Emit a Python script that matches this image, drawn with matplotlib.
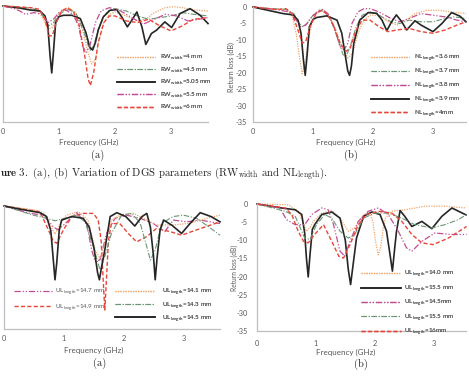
import matplotlib
matplotlib.use("Agg")
import matplotlib.pyplot as plt

plt.rcParams['font.family'] = ['Lato', 'DejaVu Sans']
plt.rcParams['axes.unicode_minus'] = False
plt.rcParams['mathtext.fontset'] = 'cm'

W, H = 469, 378

# ---- figure 3 (a): RW width ----
rw4_f = [0, 0.3, 0.55, 0.65, 0.72, 0.8, 0.88, 0.95, 1.05, 1.17, 1.3, 1.42, 1.5, 1.58, 1.65, 1.72, 1.8, 1.9, 2.0, 2.2, 2.4, 2.55, 2.7, 2.9, 3.05, 3.2, 3.4, 3.66]
rw4_db = [0, -0.8, -1.2, -2, -4, -7, -6.5, -3.5, -1.2, -0.5, -2, -7, -13, -17.5, -16, -10, -5, -2.5, -1.8, -3, -4.5, -4, -2, -0.5, -0.2, -0.5, -1.2, -1.5]
rw45_f = [0, 0.5, 0.65, 0.75, 0.82, 0.9, 1.0, 1.15, 1.3, 1.45, 1.55, 1.62, 1.7, 1.8, 1.9, 2.0, 2.2, 2.4, 2.6, 2.8, 3.0, 3.2, 3.4, 3.66]
rw45_db = [0, -0.6, -1.5, -4, -6, -5, -2.5, -1, -2, -8, -13.5, -12, -7, -3, -1.2, -0.8, -1.5, -3, -4, -3.5, -3, -2, -2.5, -3]
rw505_f = [0, 0.3, 0.48, 0.66, 0.75, 0.8, 0.84, 0.87, 0.9, 0.94, 1.0, 1.08, 1.23, 1.38, 1.48, 1.55, 1.6, 1.65, 1.7, 1.79, 1.91, 2.03, 2.12, 2.22, 2.3, 2.39, 2.48, 2.55, 2.65, 2.74, 2.89, 3.01, 3.16, 3.34, 3.52, 3.66]
rw505_db = [0, -0.6, -1.2, -1.5, -3, -6, -15, -20.2, -14, -5, -3.2, -2.8, -2.8, -3.8, -8, -12.5, -13.3, -11, -7.3, -3.3, -1.3, -1.1, -3.3, -6.3, -4.3, -1.8, -6.3, -11.6, -8.3, -7.3, -4.8, -6.5, -2.3, -0.8, -2.8, -5.3]
rw55_f = [0, 0.2, 0.3, 0.4, 0.55, 0.7, 0.8, 0.9, 1.0, 1.1, 1.25, 1.35, 1.42, 1.48, 1.55, 1.65, 1.75, 1.9, 2.1, 2.3, 2.5, 2.7, 2.9, 3.1, 3.3, 3.5, 3.66]
rw55_db = [0, -0.8, -1.5, -2.5, -2, -2.5, -5, -4, -2, -1, -2.5, -6, -12, -14, -12, -5, -1.5, -0.5, -1.5, -3.5, -5.5, -4, -2.5, -3, -4.5, -4, -3.5]
rw6_f = [0, 0.5, 0.65, 0.75, 0.82, 0.88, 0.95, 1.05, 1.15, 1.25, 1.35, 1.45, 1.52, 1.56, 1.62, 1.7, 1.8, 1.9, 2.0, 2.2, 2.4, 2.6, 2.8, 3.0, 3.2, 3.4, 3.66]
rw6_db = [0, -0.5, -1, -4, -9, -9, -5, -1.5, -0.6, -1.5, -5, -14, -22, -24, -20, -11, -5, -3, -3, -4.5, -5, -4, -6, -7.5, -6, -4, -3.5]

# ---- figure 3 (b): NL length ----
nl36_f = [0, 0.3, 0.55, 0.65, 0.72, 0.78, 0.82, 0.87, 0.93, 1.0, 1.1, 1.17, 1.28, 1.38, 1.48, 1.58, 1.66, 1.75, 1.85, 1.95, 2.1, 2.25, 2.4, 2.55, 2.7, 2.9, 3.1, 3.3, 3.55]
nl36_db = [0, -0.5, -0.8, -2.5, -8, -16, -20.3, -17, -9, -3.5, -1.2, -0.8, -3, -7, -12, -15.5, -14, -8, -4, -2.5, -2.5, -4.5, -5.5, -4, -2, -1, -1, -1.5, -2]
nl37_f = [0, 0.3, 0.55, 0.68, 0.77, 0.83, 0.9, 1.0, 1.12, 1.2, 1.3, 1.4, 1.5, 1.55, 1.62, 1.72, 1.82, 1.95, 2.1, 2.3, 2.45, 2.6, 2.8, 3.0, 3.2, 3.35, 3.55]
nl37_db = [0, -0.5, -0.7, -2, -5, -6, -5, -2.5, -1, -1.5, -4, -9, -14.5, -15, -12, -6, -2.5, -1.5, -2.5, -4.5, -5, -4, -4.5, -4.5, -3.5, -3, -3.5]
nl38_f = [0, 0.4, 0.6, 0.72, 0.8, 0.88, 0.98, 1.1, 1.15, 1.25, 1.35, 1.45, 1.52, 1.58, 1.65, 1.75, 1.85, 1.95, 2.1, 2.3, 2.45, 2.6, 2.8, 3.0, 3.2, 3.4, 3.55]
nl38_db = [0, -0.8, -1.5, -4, -6, -5.5, -3, -1, -0.7, -2, -6, -12, -13, -11, -5, -1.5, -0.5, -0.5, -1.5, -3.5, -4.5, -3.5, -2, -2.5, -3, -4, -4.5]
nl39_f = [0, 0.25, 0.5, 0.67, 0.75, 0.8, 0.84, 0.87, 0.9, 0.94, 1.0, 1.06, 1.23, 1.4, 1.48, 1.54, 1.58, 1.61, 1.64, 1.68, 1.78, 1.92, 2.06, 2.15, 2.23, 2.31, 2.39, 2.48, 2.56, 2.7, 2.8, 2.9, 3.0, 3.15, 3.31, 3.45, 3.55]
nl39_db = [0, -1, -2, -2.4, -4, -8, -16, -20.8, -15, -6, -3.8, -3.2, -2.7, -4, -8, -15, -19.5, -20.8, -18, -11, -4, -1.7, -1.9, -4, -7.2, -4.5, -2.4, -4.5, -7, -4.2, -5.5, -6.5, -7.5, -5, -1.7, -2.8, -4.5]
nl4_f = [0, 0.4, 0.55, 0.65, 0.75, 0.82, 0.88, 0.95, 1.05, 1.15, 1.25, 1.35, 1.45, 1.55, 1.62, 1.72, 1.82, 1.95, 2.1, 2.25, 2.4, 2.6, 2.8, 3.0, 3.2, 3.4, 3.55]
nl4_db = [0, -0.8, -0.5, -2, -7, -11, -10.5, -6, -2, -1, -2.5, -6, -11, -13.5, -12.5, -7, -4, -4, -6, -7.5, -7, -6.5, -7.5, -8, -7, -5.5, -4.5]

# ---- figure 4 (a): UL length ----
ul147_f = [0, 0.43, 0.66, 0.82, 0.9, 1.02, 1.21, 1.38, 1.46, 1.52, 1.6, 1.71, 1.85, 2.04, 2.27, 2.49, 2.68, 2.82, 3.04, 3.27, 3.6]
ul147_db = [0, -2.1, -2.6, -5.9, -6.8, -5, -1.9, -5, -12.5, -15.8, -15.3, -7.8, -3.5, -2.6, -3.5, -5, -7.3, -4, -4.5, -4, -5]
ul149_f = [0, 0.6, 0.74, 0.82, 0.88, 0.99, 1.13, 1.32, 1.49, 1.57, 1.62, 1.65, 1.68, 1.71, 1.74, 1.79, 1.93, 2.07, 2.21, 2.38, 2.54, 2.77, 2.96, 3.21, 3.6]
ul149_db = [0, -1.6, -6.8, -10, -10.6, -6.8, -3, -2.1, -2.1, -4, -10, -20, -29.6, -20, -10, -5, -5, -7.8, -10.2, -8.7, -6.4, -7.3, -8.3, -6.8, -4.5]
ul141_f = [0, 0.49, 0.66, 0.76, 0.85, 0.94, 1.04, 1.24, 1.4, 1.52, 1.6, 1.68, 1.79, 1.93, 2.16, 2.38, 2.54, 2.82, 3.1, 3.38, 3.6]
ul141_db = [0, -1.1, -1.9, -5, -8, -5, -2.6, -1.6, -4, -12.5, -14.9, -10.6, -4, -2.6, -2.1, -4, -5.4, -5.4, -4.9, -3.5, -2.6]
ul143_f = [0, 0.49, 0.71, 0.85, 1.02, 1.21, 1.35, 1.49, 1.6, 1.68, 1.79, 1.96, 2.13, 2.27, 2.38, 2.44, 2.52, 2.63, 2.82, 2.99, 3.21, 3.41, 3.6]
ul143_db = [0, -2.6, -3.5, -4.2, -3.5, -2.6, -4.5, -11.6, -18.2, -14.4, -7.8, -2.6, -2.1, -4.9, -11.6, -15.4, -12.5, -4.9, -3, -2.6, -3.5, -5.9, -8.3]
ul145_f = [0, 0.3, 0.6, 0.71, 0.78, 0.82, 0.85, 0.88, 0.92, 0.96, 1.13, 1.32, 1.42, 1.5, 1.56, 1.59, 1.62, 1.68, 1.77, 1.88, 2.03, 2.18, 2.3, 2.38, 2.44, 2.49, 2.52, 2.55, 2.6, 2.66, 2.8, 2.96, 3.1, 3.27, 3.45, 3.6]
ul145_db = [0, -1, -1.9, -3, -7, -15, -21, -16, -7, -4, -3, -3.5, -6, -12, -19, -21, -18, -12.5, -3, -1.9, -3, -5.7, -3, -2.1, -6, -14, -21, -15, -7, -4, -5.5, -7.8, -5, -1.9, -3, -4.5]

# ---- figure 4 (b): UL length ----
ub140_f = [0, 0.53, 0.7, 0.78, 0.84, 0.9, 0.96, 1.1, 1.27, 1.41, 1.55, 1.66, 1.81, 1.92, 1.97, 2.01, 2.06, 2.1, 2.14, 2.18, 2.29, 2.51, 2.85, 3.19, 3.55]
ub140_db = [0, -0.2, -2, -5, -7.5, -6.5, -4.8, -2.5, -1.8, -3.9, -7.5, -6.6, -2.9, -2.5, -5, -10, -14, -12, -7, -3.9, -2, -1.6, -0.6, -0.6, -1.1]
ub155_f = [0, 0.42, 0.65, 0.76, 0.81, 0.84, 0.87, 0.9, 0.94, 0.98, 1.1, 1.27, 1.41, 1.5, 1.55, 1.59, 1.63, 1.69, 1.81, 1.95, 2.09, 2.2, 2.26, 2.3, 2.34, 2.37, 2.43, 2.51, 2.63, 2.8, 2.97, 3.14, 3.31, 3.55]
ub155_db = [0, -1.1, -1.6, -2.9, -8, -15, -20.1, -14, -7, -5.7, -2.9, -2.2, -3.9, -10, -18, -22.2, -17, -9.4, -3.4, -2.2, -2.9, -7.5, -14, -18.5, -12, -7.5, -1.8, -3.4, -6.2, -4.8, -6.8, -3.4, -1.1, -3]
ub145_f = [0, 0.39, 0.5, 0.65, 0.81, 0.93, 1.1, 1.21, 1.3, 1.41, 1.49, 1.58, 1.72, 1.89, 2.06, 2.23, 2.4, 2.54, 2.63, 2.8, 3.02, 3.31, 3.56]
ub145_db = [0, -1.1, -4.3, -5.7, -5.7, -2.9, -1.1, -1.6, -5.7, -13, -14.4, -10.3, -4.8, -2, -1.1, -2.9, -7.5, -12.1, -13, -10.3, -8, -8.4, -8.4]
ub155b_f = [0, 0.48, 0.65, 0.81, 0.9, 1.01, 1.15, 1.27, 1.41, 1.55, 1.66, 1.81, 2.0, 2.23, 2.46, 2.68, 2.97, 3.19, 3.42, 3.56]
ub155b_db = [0, -2, -3.4, -9.4, -9.8, -5.7, -2.9, -3.9, -7.5, -9.4, -8.4, -3.9, -2.5, -2.5, -3.9, -5.7, -6.6, -5.7, -4.3, -2.9]
ub16_f = [0, 0.48, 0.59, 0.7, 0.79, 0.87, 0.98, 1.13, 1.27, 1.39, 1.47, 1.58, 1.72, 1.86, 2.06, 2.29, 2.46, 2.63, 2.8, 2.99, 3.25, 3.56]
ub16_db = [0, -1.1, -2.9, -7.5, -10.3, -10.7, -8.4, -5.7, -10.3, -14.4, -14.9, -11.2, -5.7, -2.9, -2, -2.5, -4.8, -8.4, -10.7, -11.2, -9.4, -6.2]

# line styles
ORANGE = dict(color='#F2A66B', ls=(0, (1, 1)), lw=0.9)
GREEN = dict(color='#6A9673', ls=(0, (5, 1.5, 1, 1.5)), lw=0.8)
BLACK = dict(color='#262626', ls='-', lw=1.2)
MAGENTA = dict(color='#C24C93', ls=(0, (5, 1.5, 1, 1.5, 1, 1.5)), lw=0.9)
RED = dict(color='#E8463A', ls=(0, (3, 1.6)), lw=1.0)

GRAY = '#BFBFBF'
TXT = '#595959'


def px_axes(l, r, t, b):
    return fig.add_axes([l / W, 1 - b / H, (r - l) / W, (b - t) / H])


def style(ax, xmax, ylabels, pad):
    ax.set_xlim(0, xmax)
    ax.set_ylim(-35, 0)
    ax.set_xticks([0, 1, 2, 3])
    ax.set_yticks(range(0, -36, -5))
    for s in ['top', 'right']:
        ax.spines[s].set_visible(False)
    for s in ['left', 'bottom']:
        ax.spines[s].set_color(GRAY)
        ax.spines[s].set_linewidth(0.9)
    ax.tick_params(length=0, labelsize=5.3, colors=TXT, pad=pad)
    if not ylabels:
        ax.set_yticklabels([])
    ax.patch.set_alpha(0)


def sub(name, sub_text, val):
    return name + r'$_{\mathregular{' + sub_text + '}}$' + '=' + val


def add_legend(ax, handles, labels, x, y, hl, tp, spacing):
    leg = ax.legend(handles, labels, loc='upper left', bbox_to_anchor=(x / W, 1 - y / H),
                    bbox_transform=fig.transFigure, frameon=False, fontsize=4.5,
                    handlelength=hl, handletextpad=tp, labelspacing=spacing,
                    borderpad=0, borderaxespad=0, labelcolor=TXT)
    ax.add_artist(leg)
    return leg


fig = plt.figure(figsize=(W / 100, H / 100), dpi=100)
fig.patch.set_facecolor('white')

# top left
ax1 = px_axes(3, 208, 6, 122)
style(ax1, 3.66, False, 4.5)
h = [ax1.plot(rw4_f, rw4_db, clip_on=False, **ORANGE)[0],
     ax1.plot(rw45_f, rw45_db, clip_on=False, **GREEN)[0],
     ax1.plot(rw505_f, rw505_db, clip_on=False, **BLACK)[0],
     ax1.plot(rw55_f, rw55_db, clip_on=False, **MAGENTA)[0],
     ax1.plot(rw6_f, rw6_db, clip_on=False, **RED)[0]]
labs = [sub('RW', 'width', v) for v in ['4 mm', '4.5 mm', '5.05 mm', '5.5 mm', '6 mm']]
add_legend(ax1, h, labs, 117, 53, 6.0, 0.9, 0.55)

# top right
ax2 = px_axes(253, 466, 7, 122)
style(ax2, 3.55, True, 4.5)
h = [ax2.plot(nl36_f, nl36_db, clip_on=False, **ORANGE)[0],
     ax2.plot(nl37_f, nl37_db, clip_on=False, **GREEN)[0],
     ax2.plot(nl38_f, nl38_db, clip_on=False, **MAGENTA)[0],
     ax2.plot(nl39_f, nl39_db, clip_on=False, **BLACK)[0],
     ax2.plot(nl4_f, nl4_db, clip_on=False, **RED)[0]]
labs = [sub('NL', 'length', v) for v in ['3.6 mm', '3.7 mm', '3.8 mm', '3.9 mm', '4mm']]
add_legend(ax2, h, labs, 371, 53, 6.0, 0.9, 0.55)

# bottom left
ax3 = px_axes(4, 220, 206, 329)
style(ax3, 3.6, False, 4)
h1 = [ax3.plot(ul147_f, ul147_db, clip_on=False, **MAGENTA)[0],
      ax3.plot(ul149_f, ul149_db, clip_on=False, **RED)[0]]
h2 = [ax3.plot(ul141_f, ul141_db, clip_on=False, **ORANGE)[0],
      ax3.plot(ul143_f, ul143_db, clip_on=False, **GREEN)[0],
      ax3.plot(ul145_f, ul145_db, clip_on=False, **BLACK)[0]]
add_legend(ax3, h1, [sub('UL', 'length', v) for v in ['14.7 mm', '14.9 mm']], 14, 287, 6.0, 0.5, 0.8)
add_legend(ax3, h2, [sub('UL', 'length', v) for v in ['14.1 mm', '14.3 mm', '14.5 mm']], 115, 287, 6.4, 1.1, 0.45)

# bottom right
ax4 = px_axes(257, 466, 204, 331)
style(ax4, 3.55, True, 6.5)
h = [ax4.plot(ub140_f, ub140_db, clip_on=False, **ORANGE)[0],
     ax4.plot(ub155_f, ub155_db, clip_on=False, **BLACK)[0],
     ax4.plot(ub145_f, ub145_db, clip_on=False, **MAGENTA)[0],
     ax4.plot(ub155b_f, ub155b_db, clip_on=False, **GREEN)[0],
     ax4.plot(ub16_f, ub16_db, clip_on=False, **RED)[0]]
labs = [sub('UL', 'length', v) for v in ['14.0 mm', '15.5 mm', '14.5mm', '15.5 mm', '16mm']]
add_legend(ax4, h, labs, 361, 269, 6.4, 0.5, 0.65)

# axis titles
for x, y in [(89, 142), (346, 142), (94, 350), (346, 352)]:
    fig.text(x / W, 1 - y / H, 'Frequency (GHz)', ha='center', va='center', fontsize=5.8, color=TXT)
for x, y, fs in [(231, 67, 5.2), (234, 268, 4.8)]:
    fig.text(x / W, 1 - y / H, 'Return loss (dB)', ha='center', va='center', rotation=90,
             fontsize=fs, color=TXT)

# sub-figure labels and caption
for x, y, t in [(98, 155, '(a)'), (351, 155, '(b)'), (100, 363, '(a)'), (361, 364, '(b)')]:
    fig.text(x / W, 1 - y / H, t, ha='center', va='center', fontsize=7.5,
             family='cmr10', color='#222222')
fig.text(0, 1 - 174 / H, r'$\mathbf{ure\ 3.}$ (a), (b) Variation of DGS parameters '
         r'(RW$_{\mathrm{width}}$ and NL$_{\mathrm{length}}$).',
         ha='left', va='center', fontsize=7.8, family='cmr10', color='#222222')

fig.savefig('out.png', dpi=100)
